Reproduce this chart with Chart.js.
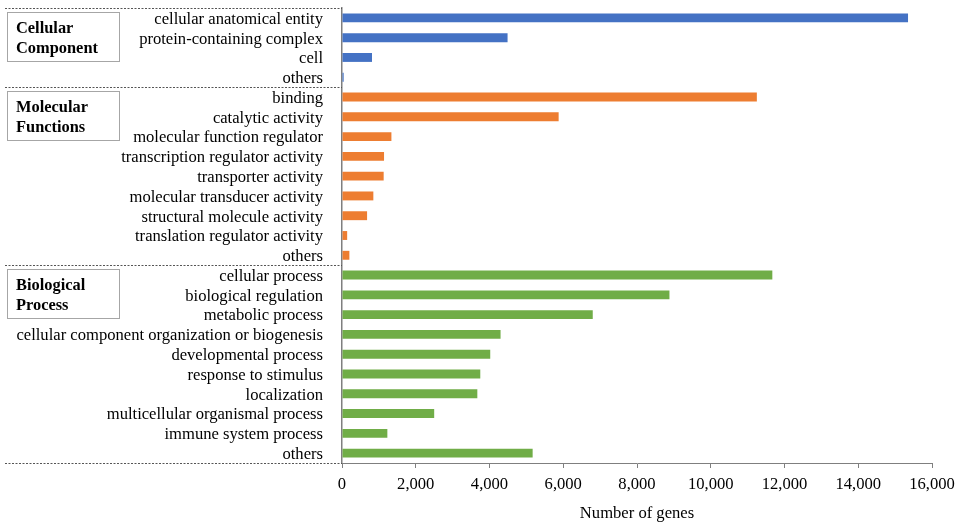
<!DOCTYPE html>
<html><head><meta charset="utf-8">
<script src="https://cdn.jsdelivr.net/npm/chart.js@4"></script>
<style>html,body{margin:0;padding:0;background:#fff}#wrap{position:relative;width:963px;height:524px}</style>
</head><body><div id="wrap"><canvas id="c"></canvas></div>
<script>
const ccLabels = ["cellular anatomical entity","protein-containing complex","cell","others"];
const ccValues = [15350,4490,814,45];
const mfLabels = ["binding","catalytic activity","molecular function regulator","transcription regulator activity","transporter activity","molecular transducer activity","structural molecule activity","translation regulator activity","others"];
const mfValues = [11250,5875,1340,1140,1130,850,680,140,200];
const bpLabels = ["cellular process","biological regulation","metabolic process","cellular component organization or biogenesis","developmental process","response to stimulus","localization","multicellular organismal process","immune system process","others"];
const bpValues = [11670,8880,6800,4300,4020,3750,3670,2500,1230,5170];
const groupNames = [["Cellular","Component"],["Molecular","Functions"],["Biological","Process"]];
const groupColors = ["#4472C4","#ED7D31","#70AD47"];
const xMin = 0, xMax = 16000, xStep = 2000;
const axisTitle = "Number of genes";

const groups = [[ccLabels, ccValues],[mfLabels, mfValues],[bpLabels, bpValues]];
const labels = [], values = [], colors = [];
groups.forEach((g,i)=>{ g[0].forEach((l,j)=>{ labels.push(l); values.push(g[1][j]); colors.push(groupColors[i]); }); });

const serif = '"Liberation Serif", "Times New Roman", serif';

const groupPlugin = {
  id:'groups',
  afterDraw(chart){
    const ctx = chart.ctx, y = chart.scales.y, area = chart.chartArea;
    const sizes = groups.map(g=>g[0].length);
    const bounds = [area.top]; let idx = 0;
    sizes.forEach((n,i)=>{ idx += n; bounds.push(i===sizes.length-1 ? area.bottom : (y.getPixelForValue(idx-1)+y.getPixelForValue(idx))/2); });
    ctx.save();
    ctx.strokeStyle = '#555'; ctx.lineWidth = 1; ctx.setLineDash([2,1.5]);
    bounds.forEach(b=>{ const yy = Math.round(b)+0.5; ctx.beginPath(); ctx.moveTo(5,yy); ctx.lineTo(area.left,yy); ctx.stroke(); });
    ctx.setLineDash([]);
    groupNames.forEach((lines,i)=>{
      const top = Math.round(bounds[i])+4;
      ctx.strokeStyle = '#a6a6a6'; ctx.lineWidth = 1;
      ctx.strokeRect(7.5, top+0.5, 112, 49);
      ctx.fillStyle = '#000'; ctx.font = 'bold 16.4px ' + serif;
      ctx.textBaseline = 'alphabetic'; ctx.textAlign = 'left';
      lines.forEach((t,j)=>ctx.fillText(t, 16, top+21+j*20));
    });
    ctx.restore();
  }
};

new Chart(document.getElementById('c'), {
  type:'bar',
  data:{labels:labels, datasets:[{data:values, backgroundColor:colors, borderWidth:0, barPercentage:0.45, categoryPercentage:1}]},
  options:{
    indexAxis:'y', responsive:true, maintainAspectRatio:false, animation:false, devicePixelRatio:1,
    layout:{padding:{top:8,right:31,bottom:0,left:0}},
    plugins:{legend:{display:false}, tooltip:{enabled:false}},
    scales:{
      x:{min:xMin, max:xMax,
        ticks:{stepSize:xStep, callback:v=>v.toLocaleString('en-US'), font:{family:serif,size:16.6}, color:'#000', padding:7, maxRotation:0},
        grid:{display:true, drawOnChartArea:false, drawTicks:true, tickLength:5, color:'#7f7f7f'},
        border:{display:true, color:'#7f7f7f', width:1},
        title:{display:true, text:axisTitle, font:{family:serif,size:16.6}, color:'#000', padding:{top:0,bottom:0}},
        afterFit(s){ s.height = 61; }
      },
      y:{
        ticks:{font:{family:serif,size:16.6,lineHeight:0.8}, color:'#000', padding:0, autoSkip:false, labelOffset:1.5},
        grid:{display:true, drawOnChartArea:false, drawTicks:true, tickLength:19, color:'rgba(0,0,0,0)'},
        border:{display:true, color:'#7f7f7f', width:1.5},
        afterFit(s){ s.width = 342; }
      }
    }
  },
  plugins:[groupPlugin]
});
</script></body></html>
